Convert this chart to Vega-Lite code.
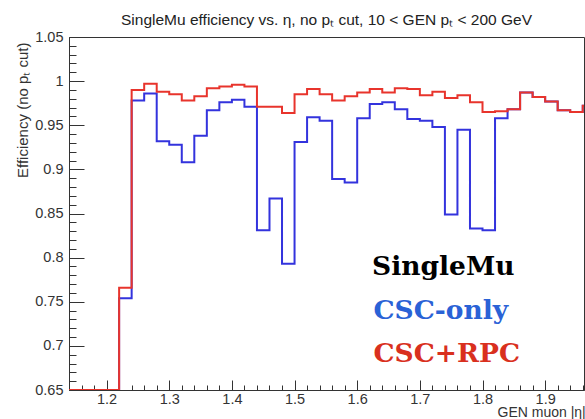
{
  "$schema": "https://vega.github.io/schema/vega-lite/v6.json",
  "width": 515,
  "height": 353,
  "autosize": {"type": "none"},
  "padding": {"left": 69, "top": 37, "right": 1, "bottom": 29},
  "background": "white",
  "title": {
    "text": "SingleMu efficiency vs. η, no pₜ cut, 10 < GEN pₜ < 200 GeV",
    "font": "Liberation Sans",
    "fontSize": 15.5,
    "fontWeight": "normal",
    "color": "#222",
    "anchor": "middle",
    "offset": 9,
    "dy": 20,
    "baseline": "alphabetic"
  },
  "config": {
    "view": {"stroke": "#333", "strokeWidth": 1},
    "axis": {"grid": false}
  },
  "data": {
    "values": [
      {"eta": 1.12, "eff": 0.65, "series": "CSC-only"},
      {"eta": 1.14, "eff": 0.65, "series": "CSC-only"},
      {"eta": 1.16, "eff": 0.65, "series": "CSC-only"},
      {"eta": 1.18, "eff": 0.65, "series": "CSC-only"},
      {"eta": 1.20, "eff": 0.65, "series": "CSC-only"},
      {"eta": 1.22, "eff": 0.754, "series": "CSC-only"},
      {"eta": 1.24, "eff": 0.978, "series": "CSC-only"},
      {"eta": 1.26, "eff": 0.986, "series": "CSC-only"},
      {"eta": 1.28, "eff": 0.932, "series": "CSC-only"},
      {"eta": 1.30, "eff": 0.928, "series": "CSC-only"},
      {"eta": 1.32, "eff": 0.908, "series": "CSC-only"},
      {"eta": 1.34, "eff": 0.938, "series": "CSC-only"},
      {"eta": 1.36, "eff": 0.967, "series": "CSC-only"},
      {"eta": 1.38, "eff": 0.976, "series": "CSC-only"},
      {"eta": 1.40, "eff": 0.979, "series": "CSC-only"},
      {"eta": 1.42, "eff": 0.971, "series": "CSC-only"},
      {"eta": 1.44, "eff": 0.831, "series": "CSC-only"},
      {"eta": 1.46, "eff": 0.867, "series": "CSC-only"},
      {"eta": 1.48, "eff": 0.793, "series": "CSC-only"},
      {"eta": 1.50, "eff": 0.931, "series": "CSC-only"},
      {"eta": 1.52, "eff": 0.959, "series": "CSC-only"},
      {"eta": 1.54, "eff": 0.955, "series": "CSC-only"},
      {"eta": 1.56, "eff": 0.889, "series": "CSC-only"},
      {"eta": 1.58, "eff": 0.885, "series": "CSC-only"},
      {"eta": 1.60, "eff": 0.958, "series": "CSC-only"},
      {"eta": 1.62, "eff": 0.974, "series": "CSC-only"},
      {"eta": 1.64, "eff": 0.976, "series": "CSC-only"},
      {"eta": 1.66, "eff": 0.968, "series": "CSC-only"},
      {"eta": 1.68, "eff": 0.957, "series": "CSC-only"},
      {"eta": 1.70, "eff": 0.955, "series": "CSC-only"},
      {"eta": 1.72, "eff": 0.948, "series": "CSC-only"},
      {"eta": 1.74, "eff": 0.849, "series": "CSC-only"},
      {"eta": 1.76, "eff": 0.945, "series": "CSC-only"},
      {"eta": 1.78, "eff": 0.833, "series": "CSC-only"},
      {"eta": 1.80, "eff": 0.831, "series": "CSC-only"},
      {"eta": 1.82, "eff": 0.958, "series": "CSC-only"},
      {"eta": 1.84, "eff": 0.968, "series": "CSC-only"},
      {"eta": 1.86, "eff": 0.987, "series": "CSC-only"},
      {"eta": 1.88, "eff": 0.982, "series": "CSC-only"},
      {"eta": 1.90, "eff": 0.977, "series": "CSC-only"},
      {"eta": 1.92, "eff": 0.967, "series": "CSC-only"},
      {"eta": 1.94, "eff": 0.965, "series": "CSC-only"},
      {"eta": 1.96, "eff": 0.972, "series": "CSC-only"},
      {"eta": 1.98, "eff": 0.972, "series": "CSC-only"},
      {"eta": 1.12, "eff": 0.65, "series": "CSC+RPC"},
      {"eta": 1.14, "eff": 0.65, "series": "CSC+RPC"},
      {"eta": 1.16, "eff": 0.65, "series": "CSC+RPC"},
      {"eta": 1.18, "eff": 0.65, "series": "CSC+RPC"},
      {"eta": 1.20, "eff": 0.65, "series": "CSC+RPC"},
      {"eta": 1.22, "eff": 0.766, "series": "CSC+RPC"},
      {"eta": 1.24, "eff": 0.990, "series": "CSC+RPC"},
      {"eta": 1.26, "eff": 0.997, "series": "CSC+RPC"},
      {"eta": 1.28, "eff": 0.988, "series": "CSC+RPC"},
      {"eta": 1.30, "eff": 0.985, "series": "CSC+RPC"},
      {"eta": 1.32, "eff": 0.978, "series": "CSC+RPC"},
      {"eta": 1.34, "eff": 0.983, "series": "CSC+RPC"},
      {"eta": 1.36, "eff": 0.992, "series": "CSC+RPC"},
      {"eta": 1.38, "eff": 0.994, "series": "CSC+RPC"},
      {"eta": 1.40, "eff": 0.996, "series": "CSC+RPC"},
      {"eta": 1.42, "eff": 0.994, "series": "CSC+RPC"},
      {"eta": 1.44, "eff": 0.971, "series": "CSC+RPC"},
      {"eta": 1.46, "eff": 0.971, "series": "CSC+RPC"},
      {"eta": 1.48, "eff": 0.964, "series": "CSC+RPC"},
      {"eta": 1.50, "eff": 0.985, "series": "CSC+RPC"},
      {"eta": 1.52, "eff": 0.991, "series": "CSC+RPC"},
      {"eta": 1.54, "eff": 0.985, "series": "CSC+RPC"},
      {"eta": 1.56, "eff": 0.978, "series": "CSC+RPC"},
      {"eta": 1.58, "eff": 0.983, "series": "CSC+RPC"},
      {"eta": 1.60, "eff": 0.987, "series": "CSC+RPC"},
      {"eta": 1.62, "eff": 0.991, "series": "CSC+RPC"},
      {"eta": 1.64, "eff": 0.987, "series": "CSC+RPC"},
      {"eta": 1.66, "eff": 0.992, "series": "CSC+RPC"},
      {"eta": 1.68, "eff": 0.991, "series": "CSC+RPC"},
      {"eta": 1.70, "eff": 0.984, "series": "CSC+RPC"},
      {"eta": 1.72, "eff": 0.988, "series": "CSC+RPC"},
      {"eta": 1.74, "eff": 0.981, "series": "CSC+RPC"},
      {"eta": 1.76, "eff": 0.984, "series": "CSC+RPC"},
      {"eta": 1.78, "eff": 0.976, "series": "CSC+RPC"},
      {"eta": 1.80, "eff": 0.965, "series": "CSC+RPC"},
      {"eta": 1.82, "eff": 0.966, "series": "CSC+RPC"},
      {"eta": 1.84, "eff": 0.968, "series": "CSC+RPC"},
      {"eta": 1.86, "eff": 0.987, "series": "CSC+RPC"},
      {"eta": 1.88, "eff": 0.982, "series": "CSC+RPC"},
      {"eta": 1.90, "eff": 0.977, "series": "CSC+RPC"},
      {"eta": 1.92, "eff": 0.967, "series": "CSC+RPC"},
      {"eta": 1.94, "eff": 0.965, "series": "CSC+RPC"},
      {"eta": 1.96, "eff": 0.972, "series": "CSC+RPC"},
      {"eta": 1.98, "eff": 0.972, "series": "CSC+RPC"}
    ]
  },
  "layer": [
    {
      "transform": [{"filter": "datum.series === 'CSC-only'"}],
      "mark": {"type": "line", "interpolate": "step-after", "strokeWidth": 2, "clip": true},
      "encoding": {
        "x": {
          "field": "eta", "type": "quantitative",
          "scale": {"domain": [1.14, 1.962], "nice": false, "zero": false},
          "axis": {
            "orient": "bottom",
            "values": [1.2, 1.3, 1.4, 1.5, 1.6, 1.7, 1.8, 1.9],
            "format": ".1f",
            "tickSize": -10, "tickColor": "#333", "tickWidth": 1,
            "domainColor": "#333",
            "labelFont": "Liberation Sans", "labelFontSize": 14.5, "labelColor": "#333",
            "labelPadding": 12,
            "title": "GEN muon |η|",
            "titleFont": "Liberation Sans", "titleFontSize": 14, "titleFontWeight": "normal", "titleColor": "#333",
            "titleX": 428, "titleY": 26, "titleAlign": "left", "titleBaseline": "alphabetic"
          }
        },
        "y": {
          "field": "eff", "type": "quantitative",
          "scale": {"domain": [0.65, 1.05], "nice": false, "zero": false},
          "axis": {
            "orient": "left",
            "values": [0.65, 0.7, 0.75, 0.8, 0.85, 0.9, 0.95, 1, 1.05],
            "labelExpr": "datum.value == 1 ? '1' : format(datum.value, '.2~f')",
            "tickSize": -15, "tickColor": "#333", "tickWidth": 1,
            "domainColor": "#333",
            "labelFont": "Liberation Sans", "labelFontSize": 14.5, "labelColor": "#333",
            "labelPadding": 21,
            "title": "Efficiency (no pₜ cut)",
            "titleFont": "Liberation Sans", "titleFontSize": 15, "titleFontWeight": "normal", "titleColor": "#333",
            "titleAngle": -90, "titleX": -47, "titleY": 5, "titleAlign": "right", "titleBaseline": "middle"
          }
        },
        "color": {
          "field": "series", "type": "nominal",
          "scale": {"domain": ["CSC-only", "CSC+RPC"], "range": ["#3333dd", "#e8342c"]},
          "legend": {
            "orient": "none", "legendX": 303, "legendY": 217,
            "title": "SingleMu",
            "titleFont": "DejaVu Serif", "titleFontSize": 26.5, "titleFontWeight": "bold", "titleColor": "#000",
            "titlePadding": 17,
            "labelFont": "DejaVu Serif", "labelFontSize": 26.5, "labelFontWeight": "bold",
            "labelOffset": -25, "labelLimit": 400,
            "symbolSize": 0, "symbolStrokeWidth": 0, "symbolOpacity": 0,
            "rowPadding": 16, "padding": 0,
            "encode": {"labels": {"update": {"fill": {"signal": "datum.value === 'CSC-only' ? '#2a62d6' : '#d9301e'"}}}}
          }
        }
      }
    },
    {
      "transform": [{"filter": "datum.series === 'CSC+RPC'"}],
      "mark": {"type": "line", "interpolate": "step-after", "strokeWidth": 2, "clip": true},
      "encoding": {
        "x": {
          "field": "eta", "type": "quantitative",
          "axis": {
            "orient": "bottom",
            "values": [1.14, 1.16, 1.18, 1.22, 1.24, 1.26, 1.28, 1.32, 1.34, 1.36, 1.38, 1.42, 1.44, 1.46, 1.48, 1.52, 1.54, 1.56, 1.58, 1.62, 1.64, 1.66, 1.68, 1.72, 1.74, 1.76, 1.78, 1.82, 1.84, 1.86, 1.88, 1.92, 1.94, 1.96],
            "tickSize": -5, "tickColor": "#333", "tickWidth": 1,
            "labels": false, "domain": false, "title": null
          }
        },
        "y": {
          "field": "eff", "type": "quantitative",
          "axis": {
            "orient": "left",
            "values": [0.66, 0.67, 0.68, 0.69, 0.71, 0.72, 0.73, 0.74, 0.76, 0.77, 0.78, 0.79, 0.81, 0.82, 0.83, 0.84, 0.86, 0.87, 0.88, 0.89, 0.91, 0.92, 0.93, 0.94, 0.96, 0.97, 0.98, 0.99, 1.01, 1.02, 1.03, 1.04],
            "tickSize": -7, "tickColor": "#333", "tickWidth": 1,
            "labels": false, "domain": false, "title": null
          }
        },
        "color": {"field": "series", "type": "nominal"}
      }
    }
  ],
  "resolve": {"axis": {"x": "independent", "y": "independent"}}
}
